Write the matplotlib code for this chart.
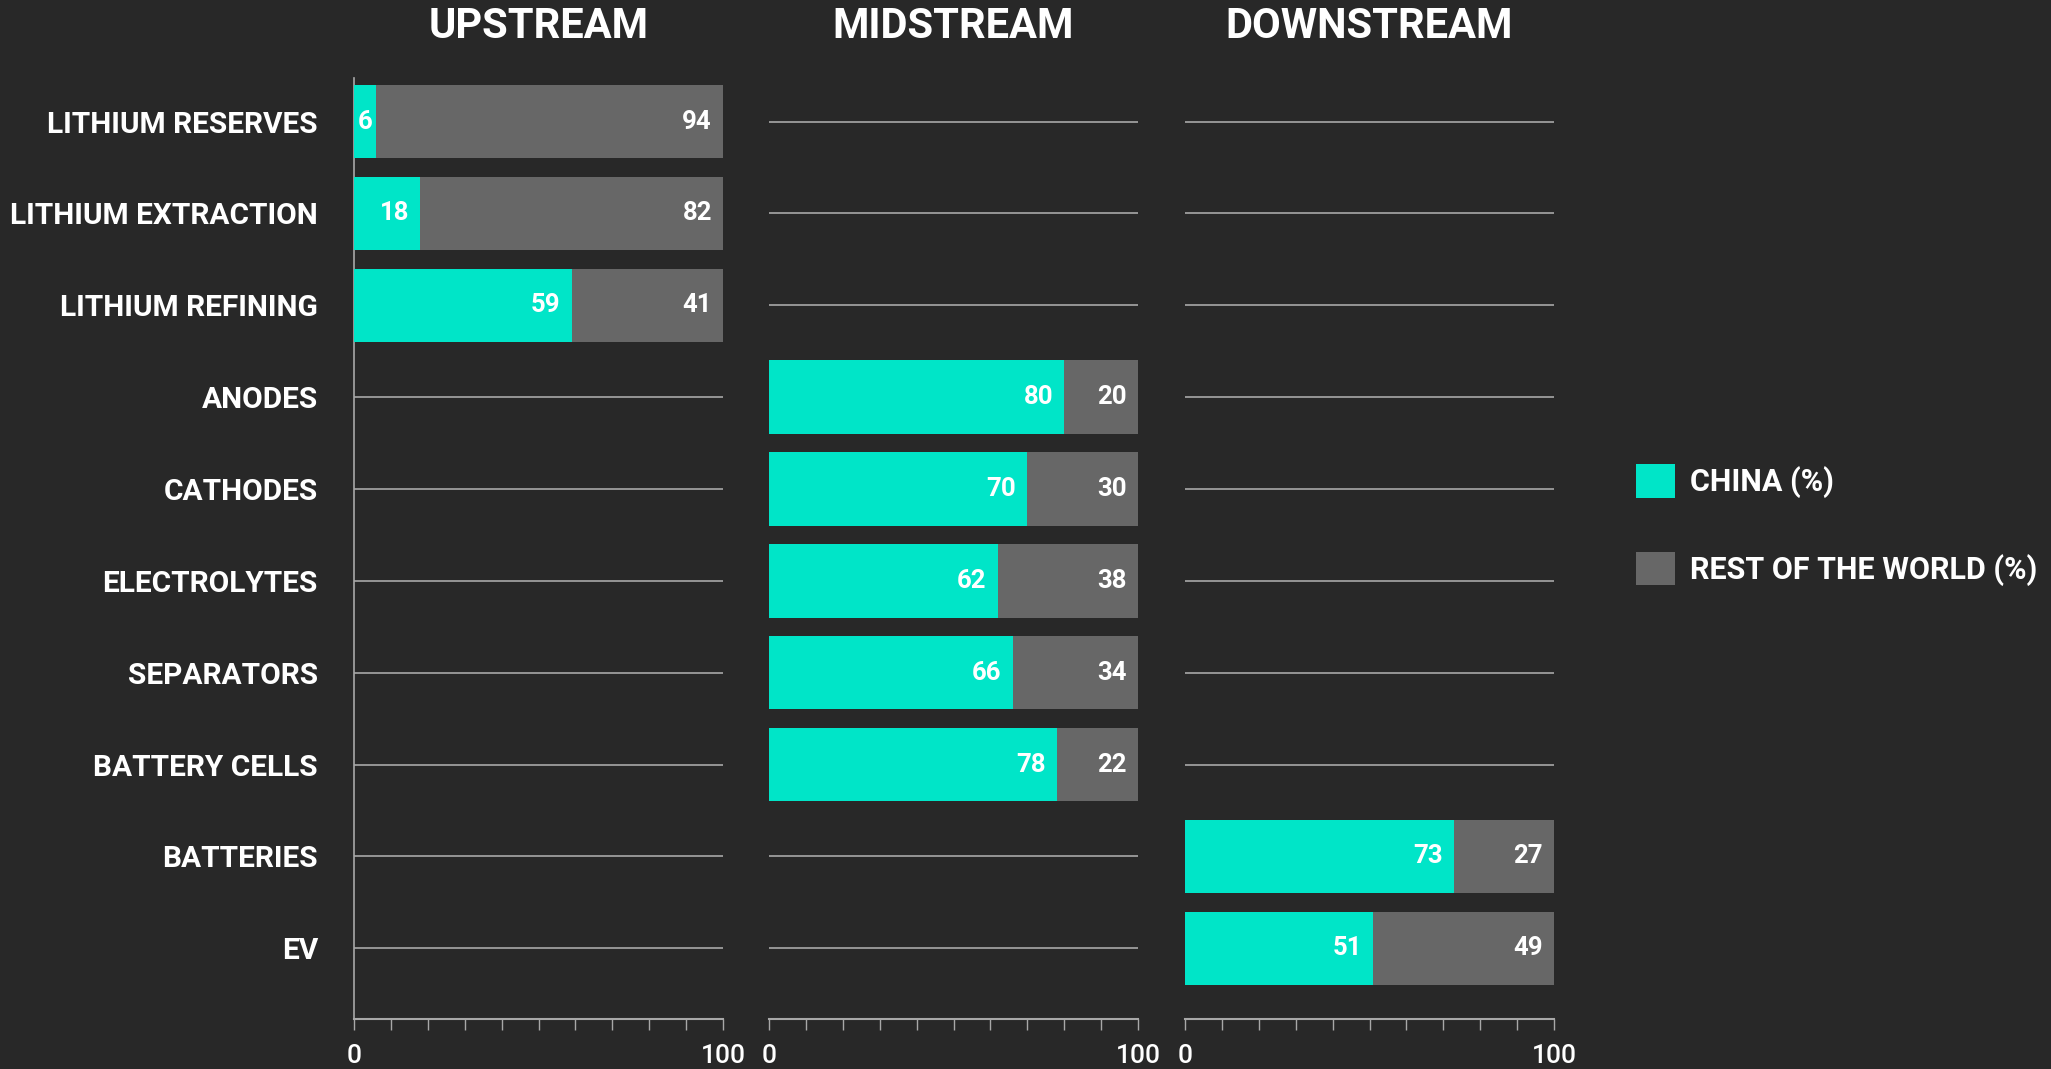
import matplotlib.pyplot as plt
from matplotlib.patches import Patch
import numpy as np

# Data: share of lithium-ion battery supply chain (%)
stages = ['UPSTREAM', 'MIDSTREAM', 'DOWNSTREAM']
categories = ['LITHIUM RESERVES', 'LITHIUM EXTRACTION', 'LITHIUM REFINING', 'ANODES',
              'CATHODES', 'ELECTROLYTES', 'SEPARATORS', 'BATTERY CELLS', 'BATTERIES', 'EV']
stage_of = [0, 0, 0, 1, 1, 1, 1, 1, 2, 2]
china = [6, 18, 59, 80, 70, 62, 66, 78, 73, 51]
rest = [94, 82, 41, 20, 30, 38, 34, 22, 27, 49]

bg = '#282828'
cyan = '#00E5C8'
grey = '#676767'
line_col = '#a8a8a8'

plt.rcParams['font.family'] = ['Roboto', 'DejaVu Sans']

fig = plt.figure(figsize=(20.51, 10.69), dpi=100, facecolor=bg)

lefts = [354 / 2051, 769 / 2051, 1185 / 2051]
width = 369 / 2051
bottom = 1 - 1019 / 1069
height = (1019 - 78) / 1069

y = np.arange(len(categories))

for s, stage in enumerate(stages):
    ax = fig.add_axes([lefts[s], bottom, width, height])
    ax.set_facecolor(bg)
    idx = [i for i in range(len(categories)) if stage_of[i] == s]
    c_vals = [china[i] for i in idx]
    r_vals = [rest[i] for i in idx]
    ax.barh(idx, c_vals, height=0.8, color=cyan, zorder=3)
    ax.barh(idx, r_vals, left=c_vals, height=0.8, color=grey, zorder=3)

    # value labels inside bars
    for i, c, r in zip(idx, c_vals, r_vals):
        if c < 10:
            ax.annotate(str(c), (c / 2, i), ha='center', va='center', color='white',
                        fontsize=18.5, fontweight='semibold', zorder=4)
        else:
            ax.annotate(str(c), (c, i), xytext=(-8, 0), textcoords='offset points',
                        ha='right', va='center', color='white', fontsize=18.5,
                        fontweight='semibold', zorder=4)
        ax.annotate(str(r), (100, i), xytext=(-8, 0), textcoords='offset points',
                    ha='right', va='center', color='white', fontsize=18.5,
                    fontweight='semibold', zorder=4)

    ax.set_xlim(0, 100)
    ax.set_ylim(9.77, -0.475)
    ax.set_yticks(y)
    ax.grid(axis='y', color=line_col, linewidth=1.2, zorder=0)
    ax.grid(axis='x', visible=False)
    ax.set_axisbelow(True)

    ax.set_xticks(np.arange(0, 101, 10))
    ax.set_xticklabels(['0'] + [''] * 9 + ['100'])
    ax.tick_params(axis='x', direction='out', length=8, width=1, color=line_col,
                   labelcolor='white', labelsize=19, pad=10)
    for lbl in ax.get_xticklabels():
        lbl.set_fontweight('medium')

    for sp in ['top', 'right']:
        ax.spines[sp].set_visible(False)
    ax.spines['bottom'].set_color(line_col)
    ax.spines['bottom'].set_linewidth(1.5)

    if s == 0:
        ax.spines['left'].set_color(line_col)
        ax.spines['left'].set_linewidth(1.2)
        ax.set_yticklabels(categories)
        ax.tick_params(axis='y', length=0, labelcolor='white', labelsize=21.5, pad=26)
        for lbl in ax.get_yticklabels():
            lbl.set_fontweight('semibold')
    else:
        ax.spines['left'].set_visible(False)
        ax.tick_params(axis='y', length=0, labelleft=False)

    fig.text(lefts[s] + width / 2, 1 - 27 / 1069, stage, ha='center', va='center',
             color='white', fontsize=30, fontweight='semibold')

# Legend
handles = [Patch(facecolor=cyan, label='CHINA (%)'),
           Patch(facecolor=grey, label='REST OF THE WORLD (%)')]
leg = fig.legend(handles=handles, loc='center left',
                 bbox_to_anchor=(1608 / 2051, 1 - 525 / 1069),
                 frameon=False, fontsize=22, labelcolor='white', handlelength=1.3,
                 handleheight=1.3, handletextpad=0.5, labelspacing=1.75)
for t in leg.get_texts():
    t.set_fontweight('semibold')

plt.savefig('out.png', dpi=100, facecolor=bg)
